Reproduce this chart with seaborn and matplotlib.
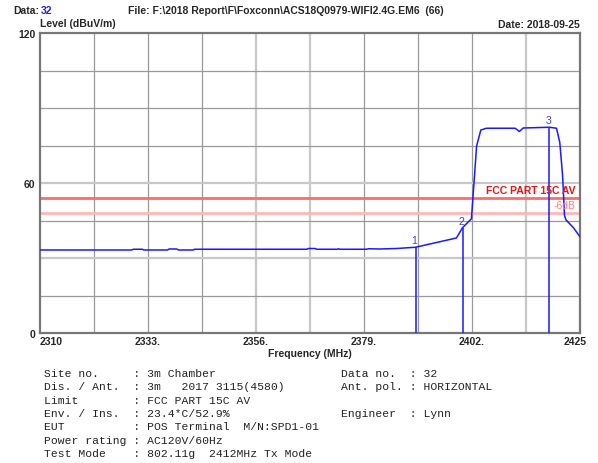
import numpy as np
import pandas as pd
import matplotlib
matplotlib.use("Agg")
import matplotlib.pyplot as plt
import matplotlib.transforms as mtransforms
import seaborn as sns

# trace (MHz, dBuV/m)
freq_mhz = [2310.0, 2329.6, 2330.0, 2331.9, 2332.2, 2337.2, 2337.6, 2339.2, 2339.6,
            2342.7, 2343.0, 2366.9, 2367.2, 2368.6, 2369.0, 2373.4, 2373.6, 2373.9,
            2379.6, 2380.0, 2382.4, 2386.0, 2390.0, 2394.0, 2398.7, 2400.0, 2401.9,
            2402.4, 2403.0, 2403.9, 2405.1, 2411.2, 2412.1, 2412.9, 2418.5, 2420.0,
            2420.7, 2421.3, 2421.7, 2422.0, 2423.6, 2425.0]
level_dbuv = [33.2, 33.2, 33.5, 33.5, 33.2, 33.2, 33.6, 33.6, 33.2,
              33.2, 33.5, 33.5, 33.8, 33.8, 33.5, 33.5, 33.7, 33.5,
              33.5, 33.7, 33.6, 33.8, 34.3, 36.0, 38.0, 42.1, 45.7,
              58.9, 74.8, 81.2, 81.9, 81.9, 80.6, 82.0, 82.3, 81.9,
              76.2, 62.9, 47.0, 45.3, 42.1, 38.5]

marker_ids = ["1", "2", "3"]
marker_freq = [2390.0, 2400.0, 2418.5]
marker_level = [34.3, 42.1, 82.3]

limit_name = "FCC PART 15C AV"
limit_level = 54.0
margin_level = 48.0

x_ticks = [2310, 2333, 2356, 2379, 2402, 2425]
x_tick_labels = ["2310", "2333.", "2356.", "2379.", "2402.", "2425"]
y_ticks = [0, 60, 120]

info_left = [("Site no.", "3m Chamber"),
             ("Dis. / Ant.", "3m   2017 3115(4580)"),
             ("Limit", "FCC PART 15C AV"),
             ("Env. / Ins.", "23.4*C/52.9%"),
             ("EUT", "POS Terminal  M/N:SPD1-01"),
             ("Power rating", "AC120V/60Hz"),
             ("Test Mode", "802.11g  2412MHz Tx Mode")]
info_right = [("Data no.", "32"), ("Ant. pol.", "HORIZONTAL"), None,
              ("Engineer", "Lynn")]

W, H = 598, 464
sns.set_style("white")
plt.rcParams["font.family"] = ["Liberation Sans", "DejaVu Sans"]

fig = plt.figure(figsize=(W / 100, H / 100), dpi=100)
ax = fig.add_axes([39.5 / W, 1 - 334 / H, (580 - 39.5) / W, 300 / H])


def px(x, y):
    return x / W, 1 - y / H


# grid every 11.5 MHz / 15 dB, a few drawn lighter like the original
for i in range(1, 10):
    f = 2310 + 11.5 * i
    light = i in (4, 5, 9)
    ax.axvline(f, color="#c8c8c8" if light else "#9a9a9a",
               lw=1.6 if light else 0.9, zorder=0)
for lv in range(15, 120, 15):
    light = lv in (30, 60)
    ax.axhline(lv, color="#c8c8c8" if light else "#9a9a9a",
               lw=1.6 if light else 0.9, zorder=0)

ax.axhline(limit_level, color="#ff6b6b", lw=2, zorder=1)
ax.axhline(margin_level, color="#ffb8b8", lw=2, zorder=1)

df = pd.DataFrame({"freq": freq_mhz, "level": level_dbuv})
sns.lineplot(data=df, x="freq", y="level", ax=ax, color="#1a1aff",
             lw=1.1, estimator=None, zorder=3)
ax.vlines(marker_freq, 0, marker_level, color="#1a1aff", lw=1.1, zorder=3)
for mid, mf, ml in zip(marker_ids, marker_freq, marker_level):
    ax.annotate(mid, (mf, ml), xytext=(-1, 5), textcoords="offset points",
                ha="center", va="center", color="#4040d0", fontsize=7.5)

ax.text(2424.0, limit_level + 1.0, limit_name, color="#f01010",
        fontsize=7.5, fontweight="bold", ha="right", va="bottom")
ax.text(2424.0, margin_level + 1.0, "-6dB", color="#ff8080",
        fontsize=7.5, ha="right", va="bottom")

ax.set_xlim(2310, 2425)
ax.set_ylim(0, 120)
ax.set_xticks(x_ticks)
ax.set_xticklabels(x_tick_labels, fontsize=7.5, fontweight="bold")
ax.set_yticks(y_ticks)
ax.set_yticklabels([str(v) for v in y_ticks], fontsize=7.5, fontweight="bold")
ax.tick_params(axis="both", length=0)
ax.tick_params(axis="x", pad=2)
ax.tick_params(axis="y", pad=3)
ax.set_xlabel("")
ax.set_ylabel("")
labels = ax.get_xticklabels()
labels[0].set_horizontalalignment("left")
labels[-1].set_horizontalalignment("right")
labels[-1].set_transform(labels[-1].get_transform() +
                         mtransforms.ScaledTranslation(7 / 100, 0, fig.dpi_scale_trans))
for s in ax.spines.values():
    s.set_color("#777777")
    s.set_linewidth(1.6)

bold = dict(fontsize=7.5, fontweight="bold", va="center")
fig.text(*px(13, 11), "Data:", ha="left", **bold)
fig.text(*px(41, 11), "32", ha="left", color="#2020e0", **bold)
fig.text(*px(128, 11), r"File: F:\2018 Report\F\Foxconn\ACS18Q0979-WIFI2.4G.EM6  (66)",
         ha="left", **bold)
fig.text(*px(40, 24), "Level (dBuV/m)", ha="left", **bold)
fig.text(*px(580, 25), "Date: 2018-09-25", ha="right", **bold)
fig.text(*px(310, 354), "Frequency (MHz)", ha="center", **bold)

mono = dict(fontsize=8.2, family="Liberation Mono", va="center", ha="left",
            color="#222222")
for i, item in enumerate(info_left):
    fig.text(*px(44, 374 + 13.35 * i), f"{item[0]:<13}: {item[1]}", **mono)
for i, item in enumerate(info_right):
    if item is None:
        continue
    fig.text(*px(341, 374 + 13.35 * i), f"{item[0]:<10}: {item[1]}", **mono)

fig.savefig("out.png", dpi=100)
